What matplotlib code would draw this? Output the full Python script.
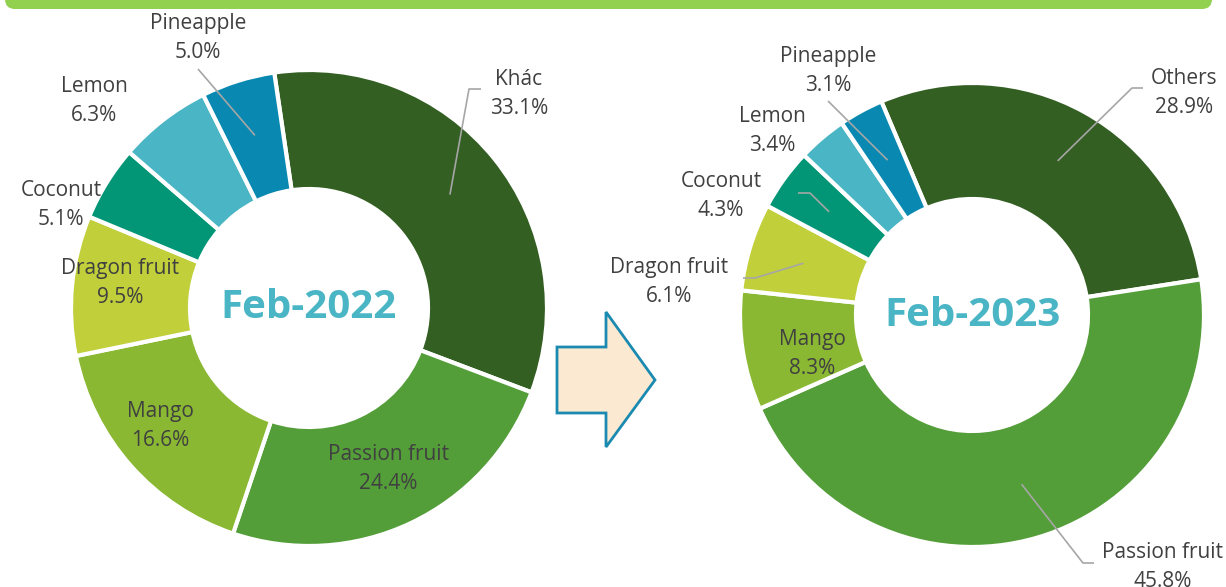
import numpy as np
import matplotlib.pyplot as plt
from matplotlib.patches import Polygon, FancyBboxPatch

plt.rcParams['font.family'] = ['Open Sans', 'DejaVu Sans']

# ---------------- data ----------------
labels_2022 = ['Khác', 'Passion fruit', 'Mango', 'Dragon fruit', 'Coconut', 'Lemon', 'Pineapple']
values_2022 = [33.1, 24.4, 16.6, 9.5, 5.1, 6.3, 5.0]

labels_2023 = ['Others', 'Passion fruit', 'Mango', 'Dragon fruit', 'Coconut', 'Lemon', 'Pineapple']
values_2023 = [28.9, 45.8, 8.3, 6.1, 4.3, 3.4, 3.1]

colors = ['#335F23', '#549E39', '#8AB833', '#C0CF3A', '#029676', '#4AB5C4', '#0989B1']

W, H = 1226, 587
TEXT = '#404040'
LEADER = '#A6A6A6'


def Y(y):
    # image row -> axes y (y up)
    return H - y


fig = plt.figure(figsize=(W / 100, H / 100), dpi=100)
ax = fig.add_axes([0, 0, 1, 1])


def donut(values, names, center, radius, start, label_pos, leaders, title):
    cx, cy = center
    ax.pie(values, colors=colors, startangle=start, counterclock=False,
           radius=radius, center=(cx, Y(cy)),
           wedgeprops=dict(width=radius * 0.5, edgecolor='white', linewidth=3))
    ax.text(cx, Y(cy), title, ha='center', va='center', fontsize=29,
            fontweight='bold', color='#4AB5C4')

    # mid angle of each wedge (deg, matplotlib convention)
    cum = np.cumsum([0] + list(values))
    total = sum(values)
    mids = start - 360 * (cum[:-1] + np.array(values) / 2) / total

    for i, (name, v) in enumerate(zip(names, values)):
        lx, ly = label_pos[i]
        ax.text(lx, Y(ly + 2), f'{name}\n{v:.1f}%', ha='center', va='center',
                fontsize=15, color=TEXT, linespacing=1.55)
        if i in leaders:
            a = np.deg2rad(mids[i])
            px = cx + 0.76 * radius * np.cos(a)
            py = Y(cy) + 0.76 * radius * np.sin(a)
            pts = leaders[i]
            xs = [px] + [p[0] for p in pts]
            ys = [py] + [Y(p[1]) for p in pts]
            ax.plot(xs, ys, color=LEADER, lw=1.2, solid_capstyle='butt')


# left donut (Feb-2022)
pos_2022 = [(519, 92), (388, 467), (160, 424), (120, 281), (61, 203), (94, 99), (198, 36)]
lead_2022 = {0: [(469, 89), (481, 89)], 6: [(198, 69)]}
donut(values_2022, labels_2022, (309, 308), 238, 98.4, pos_2022, lead_2022, 'Feb-2022')

# right donut (Feb-2023)
pos_2023 = [(1184, 91), (1163, 565), (812, 352), (669, 280), (721, 194), (772, 129), (828, 69)]
lead_2023 = {0: [(1132, 88), (1143, 88)], 1: [(1083, 563), (1094, 563)],
             3: [(755, 278), (743, 278)], 4: [(810, 193), (798, 193)],
             6: [(828, 101)]}
donut(values_2023, labels_2023, (972, 315), 232, 113, pos_2023, lead_2023, 'Feb-2023')

# arrow between the two charts
arrow = [(557, 347), (606, 347), (606, 312), (655, 380), (606, 447), (606, 413), (557, 413)]
ax.add_patch(Polygon([(x, Y(y)) for x, y in arrow], closed=True,
                     facecolor='#FCE9D2', edgecolor='#1A8AB0', lw=2, joinstyle='miter'))

# green banner at the top
ax.add_patch(FancyBboxPatch((5, Y(9)), 1207, 40, boxstyle='round,pad=0,rounding_size=10',
                            facecolor='#92D050', edgecolor='none', clip_on=True))

ax.set_xlim(0, W)
ax.set_ylim(0, H)
ax.set_aspect('equal')
ax.axis('off')

fig.savefig('out.png', dpi=100)
